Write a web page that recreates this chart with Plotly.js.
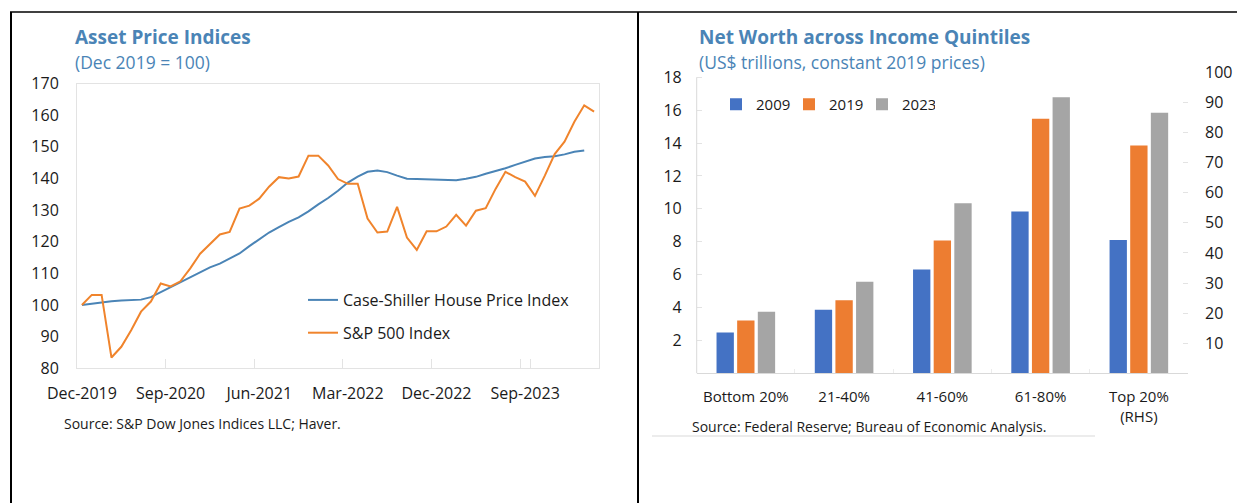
<!DOCTYPE html>
<html>
<head>
<meta charset="utf-8">
<script src="https://cdn.plot.ly/plotly-3.0.1.min.js"></script>
<style>
html,body{margin:0;padding:0;background:#fff;}
#chart{width:1238px;height:503px;}
</style>
</head>
<body>
<div id="chart"></div>
<script>
// ---------- Left chart data ----------
const monthNames = ['Jan','Feb','Mar','Apr','May','Jun','Jul','Aug','Sep','Oct','Nov','Dec'];
function monthLabels(startYear, startMonthIdx, count) {
  const out = [];
  for (let k = 0; k < count; k++) {
    const m = (startMonthIdx + k) % 12;
    const y = startYear + Math.floor((startMonthIdx + k) / 12);
    out.push(monthNames[m] + '-' + y);
  }
  return out;
}
const months = monthLabels(2019, 11, 53); // Dec-2019 .. Apr-2024

const caseShiller = [100,100.4,101.0,101.2,101.4,101.5,101.7,102.5,104.1,105.7,
  107.3,108.9,110.5,111.9,113.1,114.7,116.3,118.6,120.8,122.9,
  124.6,126.3,127.7,129.6,131.8,133.8,136.1,138.7,140.6,142.1,
  142.5,142.0,140.9,139.9,139.8,139.7,139.4,139.3,139.4,139.9,
  140.5,141.5,142.3,143.2,144.3,145.3,146.3,146.8,147.0,147.6,
  148.4,148.8];
const sp500 = [100,103.2,103.2,83.4,86.8,92.0,97.9,101.1,106.8,105.9,
  107.5,111.6,116.2,119.4,122.3,123.1,130.5,131.4,133.6,137.4,
  140.4,140.0,140.6,147.2,147.2,144.1,139.8,138.3,138.3,127.3,
  122.9,123.2,131.0,121.3,117.4,123.3,123.3,124.8,128.5,125.1,
  129.8,130.6,136.7,142.1,140.4,139.0,134.5,140.9,147.7,151.6,
  157.9,163.1,161.1];
const leftTickLabels = ['Dec-2019','Sep-2020','Jun-2021','Mar-2022','Dec-2022','Sep-2023'];
const leftYTicks = [80,90,100,110,120,130,140,150,160,170];

// ---------- Right chart data ----------
const quintiles = ['Bottom 20%','21-40%','41-60%','61-80%'];
const topQuintile = ['Top 20%<br>(RHS)'];
const years = ['2009','2019','2023'];
const nw2009 = [2.48, 3.87, 6.31, 9.84];
const nw2019 = [3.22, 4.44, 8.07, 15.47];
const nw2023 = [3.75, 5.57, 10.34, 16.79];
const top2009 = [44.3];
const top2019 = [75.7];
const top2023 = [86.6];
const leftAxisTicks = [2,4,6,8,10,12,14,16,18];
const rightAxisTicks = [10,20,30,40,50,60,70,80,90,100];

// ---------- Styles ----------
const W = 1238, H = 503;
const px = v => v / W;
const py = v => 1 - v / H;
const FONT = 'Open Sans, Noto Sans, sans-serif';
const titleColor = '#4a84b6';
const barColors = ['#4472c4', '#ed7d31', '#a5a5a5'];
const lightLine = '#e3e3e3';

const traces = [
  {type:'scatter', mode:'lines', x: months.slice(0, caseShiller.length), y: caseShiller,
   name:'Case-Shiller House Price Index', line:{color:'#4a84b6', width:2},
   xaxis:'x', yaxis:'y', legend:'legend', legendgroup:'a'},
  {type:'scatter', mode:'lines', x: months, y: sp500,
   name:'S&P 500 Index', line:{color:'#f0842c', width:2},
   xaxis:'x', yaxis:'y', legend:'legend', legendgroup:'b'}
];
const lowSeries = [nw2009, nw2019, nw2023];
const topSeries = [top2009, top2019, top2023];
years.forEach((yr, k) => {
  traces.push({type:'bar', x: quintiles, y: lowSeries[k], name: yr,
    marker:{color: barColors[k]}, xaxis:'x2', yaxis:'y2', legend:'legend2'});
});
years.forEach((yr, k) => {
  traces.push({type:'bar', x: topQuintile, y: topSeries[k], name: yr, showlegend:false,
    marker:{color: barColors[k]}, xaxis:'x2', yaxis:'y3'});
});

const layout = {
  width: W, height: H,
  margin:{l:0, r:0, t:0, b:0},
  paper_bgcolor:'#fff', plot_bgcolor:'rgba(0,0,0,0)',
  font:{family: FONT, size: 15, color:'#1a1a1a'},
  barmode:'group', bargap:0.37, bargroupgap:0.16,
  xaxis:{
    domain:[px(77), px(599)], anchor:'y', type:'category',
    categoryorder:'array', categoryarray: months, range:[-0.5, 52.5],
    tickmode:'array', tickvals: leftTickLabels, ticktext: leftTickLabels,
    tickson:'boundaries', ticks:'inside', ticklen:9, tickcolor: lightLine, tickangle:0,
    showgrid:false, showline:true, linecolor: lightLine, mirror:true,
    tickfont:{size:16, color:'#1a1a1a'}, ticklabelstandoff: 10, fixedrange:true
  },
  yaxis:{
    domain:[py(368.3), py(83.5)], anchor:'x', range:[80,170],
    tickmode:'array', tickvals: leftYTicks, ticks:'', showgrid:false,
    showline:true, linecolor: lightLine, mirror:true, zeroline:false,
    tickfont:{size:16, color:'#1a1a1a'}, ticklabelstandoff: 14
  },
  xaxis2:{
    domain:[px(696.7), px(1188)], anchor:'y2', type:'category',
    categoryorder:'array', categoryarray: quintiles.concat(topQuintile),
    tickson:'boundaries', ticks:'inside', ticklen:4, tickcolor:'#ececec', tickangle:0,
    showgrid:false, showline:true, linecolor:'#d9d9d9',
    tickfont:{size:15, color:'#1a1a1a'}, ticklabelstandoff: 10
  },
  yaxis2:{
    domain:[py(373.4), py(72.3)], anchor:'x2', range:[0, 18.3],
    tickmode:'array', tickvals: leftAxisTicks, ticks:'inside', ticklen:5, tickcolor:'#e3e3e3',
    showgrid:false, showline:false, zeroline:false,
    tickfont:{size:16, color:'#1a1a1a'}, ticklabelstandoff: 14
  },
  yaxis3:{
    overlaying:'y2', side:'right', anchor:'x2', range:[0,100],
    tickmode:'array', tickvals: rightAxisTicks, ticks:'inside', ticklen:5, tickcolor:'#e3e3e3',
    showgrid:false, showline:false, zeroline:false,
    tickfont:{size:16, color:'#1a1a1a'}, ticklabelstandoff: 16
  },
  showlegend:true,
  legend:{
    x: px(303), y: py(283), xanchor:'left', yanchor:'top',
    orientation:'v', bgcolor:'rgba(0,0,0,0)', tracegroupgap: 9,
    font:{size:16, color:'#1a1a1a'}
  },
  legend2:{
    x: px(716), y: py(88), xanchor:'left', yanchor:'top',
    orientation:'h', bgcolor:'rgba(0,0,0,0)', entrywidth: 28,
    font:{size:15, color:'#1a1a1a'}
  },
  shapes:[
    {type:'line', xref:'paper', yref:'paper', x0:px(10), x1:px(1237), y0:py(12), y1:py(12), line:{color:'#000', width:1.5}},
    {type:'line', xref:'paper', yref:'paper', x0:px(11), x1:px(11), y0:py(12), y1:py(503), line:{color:'#000', width:2}},
    {type:'line', xref:'paper', yref:'paper', x0:px(638), x1:px(638), y0:py(12), y1:py(503), line:{color:'#000', width:2}},
    {type:'line', xref:'x2 domain', yref:'y2', x0:0, x1:0, y0:0, y1:18, line:{color:'#d9d9d9', width:1}},
    {type:'line', xref:'paper', yref:'paper', x0:px(652), x1:px(1095), y0:py(436), y1:py(436), line:{color:'#d9d9d9', width:1}}
  ],
  annotations:[
    {xref:'paper', yref:'paper', x:px(73), y:py(37), xanchor:'left', yanchor:'middle', showarrow:false,
     text:'<b>Asset Price Indices</b>', font:{size:19, color:titleColor}},
    {xref:'paper', yref:'paper', x:px(73), y:py(62), xanchor:'left', yanchor:'middle', showarrow:false,
     text:'(Dec 2019 = 100)', font:{size:17.5, color:titleColor}},
    {xref:'paper', yref:'paper', x:px(62), y:py(423), xanchor:'left', yanchor:'middle', showarrow:false,
     text:'Source: S&P Dow Jones Indices LLC; Haver.', font:{size:14, color:'#1a1a1a'}},
    {xref:'paper', yref:'paper', x:px(697), y:py(37), xanchor:'left', yanchor:'middle', showarrow:false,
     text:'<b>Net Worth across Income Quintiles</b>', font:{size:19, color:titleColor}},
    {xref:'paper', yref:'paper', x:px(697), y:py(62), xanchor:'left', yanchor:'middle', showarrow:false,
     text:'(US$ trillions, constant 2019 prices)', font:{size:17.5, color:titleColor}},
    {xref:'paper', yref:'paper', x:px(690), y:py(426), xanchor:'left', yanchor:'middle', showarrow:false,
     text:'Source: Federal Reserve; Bureau of Economic Analysis.', font:{size:14, color:'#1a1a1a'}}
  ]
};

Plotly.newPlot('chart', traces, layout, {displayModeBar:false, staticPlot:true});
</script>
</body>
</html>
